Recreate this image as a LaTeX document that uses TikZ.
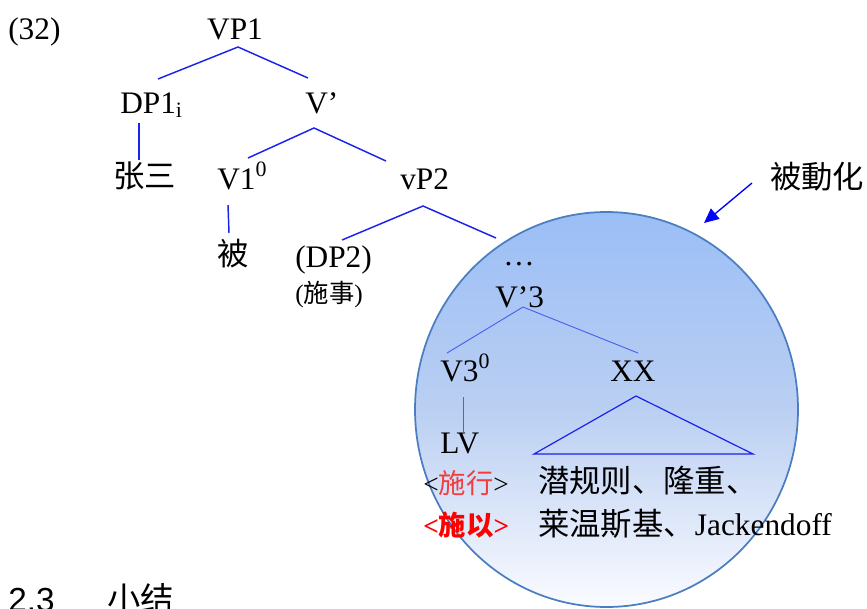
\documentclass[tikz,border=0pt]{standalone}
\usepackage{fontspec}
\setmainfont{Liberation Serif}
\newfontfamily\cjk{Noto Sans CJK SC}
\newfontfamily\hsans{Liberation Sans}
\usetikzlibrary{arrows.meta}
\definecolor{treeblue}{RGB}{25,35,235}
\definecolor{thinblue}{RGB}{75,95,240}
\definecolor{ringblue}{RGB}{74,126,192}
\definecolor{fillTop}{RGB}{155,190,246}
\definecolor{fillMid}{RGB}{186,207,242}
\definecolor{fillBot}{RGB}{250,251,255}
\definecolor{lred}{RGB}{245,60,60}
\definecolor{sred}{RGB}{255,0,0}
\begin{document}
\begin{tikzpicture}[x=0.75pt,y=-0.75pt,
  lab/.style={inner sep=0pt, anchor=base west, font=\fontsize{23.5}{27}\selectfont},
  small/.style={inner sep=0pt, anchor=base west, font=\fontsize{19}{23}\selectfont},
  mid/.style={inner sep=0pt, anchor=base west, font=\fontsize{20.5}{25}\selectfont},
  head/.style={inner sep=0pt, anchor=base west, font=\fontsize{25}{30}\selectfont},
  branch/.style={draw=treeblue, line width=1.1pt},
  thinbranch/.style={draw=thinblue, line width=0.7pt},
  tri/.style={draw=treeblue, line width=0.9pt}]
\clip (0,0) rectangle (867,608);

% passivisation domain
\path[top color=fillTop, bottom color=fillBot, middle color=fillMid, draw=ringblue, line width=1.3pt]
  (606.5,409.5) ellipse [x radius=191.5, y radius=197.5];

% labels
\node[lab] (ex) at (8,39) {(32)};
\node[lab, anchor=base] (VPa) at (235,39) {VP1};
\node[lab] (DPa) at (120,113) {DP1\textsubscript{i}};
\node[lab] (Vbar) at (305,113) {V’};
\node[lab] (zs) at (113,187) {\cjk 张三};
\node[lab] (Va) at (217,189) {V1\textsuperscript{0}};
\node[lab] (vPb) at (400,189) {vP2};
\node[lab] (bei) at (217,265) {\cjk 被};
\node[lab] (DPb) at (295,267) {(DP2)};
\node[small] (agent) at (295,302) {(\cjk 施事\normalfont)};
\node[lab, anchor=base] (dots) at (519,265) {…};
\node[lab] (Vbarc) at (495,307) {V’3};
\node[lab] (Vc) at (440,381) {V3\textsuperscript{0}};
\node[lab] (XX) at (610,381) {XX};
\node[lab] (LV) at (440,453) {LV};
\node[mid] (shixing) at (423,493) {<\textcolor{lred}{\cjk 施行}>};
\node[lab] (list1) at (538,492) {\cjk 潜规则、隆重、};
\node[mid, text=sred, font=\fontsize{20.5}{25}\selectfont\bfseries] (shiyi) at (423,535) {<\cjk\bfseries 施以\normalfont\bfseries>};
\node[lab] (list2) at (538,535) {{\cjk 莱温斯基、}Jackendoff};
\node[lab] (bdh) at (770,188) {\cjk 被動化};
\node[head] (sec) at (8,611) {\hsans 2.3};
\node[head] (sect) at (107,611) {\cjk 小结};

% branch end points
\coordinate (vpaS) at (238,47);
\coordinate (dpaN) at (158,79);
\coordinate (vbarN) at (308,78);
\coordinate (dpaS) at (139,123);
\coordinate (zsN) at (139,160);
\coordinate (vbarS) at (314,128);
\coordinate (vaN) at (248,158);
\coordinate (vpbN) at (386,161);
\coordinate (vaS) at (228,205);
\coordinate (beiN) at (229,233);
\coordinate (vpbS) at (423,206);
\coordinate (dpbN) at (342,240);
\coordinate (dotsN) at (496,238);
\coordinate (vbarcS) at (523,307);
\coordinate (vcN) at (447,353);
\coordinate (xxN) at (638,353);
\coordinate (vcS) at (463,397);
\coordinate (lvN) at (463,433);
\coordinate (xxS) at (636,396);
\coordinate (triL) at (534,454);
\coordinate (triR) at (753,454);
\coordinate (arrS) at (752,183);
\coordinate (arrE) at (704,223);

% branches
\draw[branch] (dpaN) -- (vpaS) -- (vbarN);
\draw[branch] (dpaS) -- (zsN);
\draw[branch] (vaN) -- (vbarS) -- (vpbN);
\draw[branch] (vaS) -- (beiN);
\draw[branch] (dpbN) -- (vpbS) -- (dotsN);
\draw[thinbranch] (vcN) -- (vbarcS) -- (xxN);
\draw[thinbranch] (vcS) -- (lvN);
\draw[tri] (xxS) -- (triL) -- (triR) -- cycle;
\draw[draw=blue, line width=1pt, -{Triangle[length=11pt,width=10pt]}] (arrS) -- (arrE);
\end{tikzpicture}
\end{document}
